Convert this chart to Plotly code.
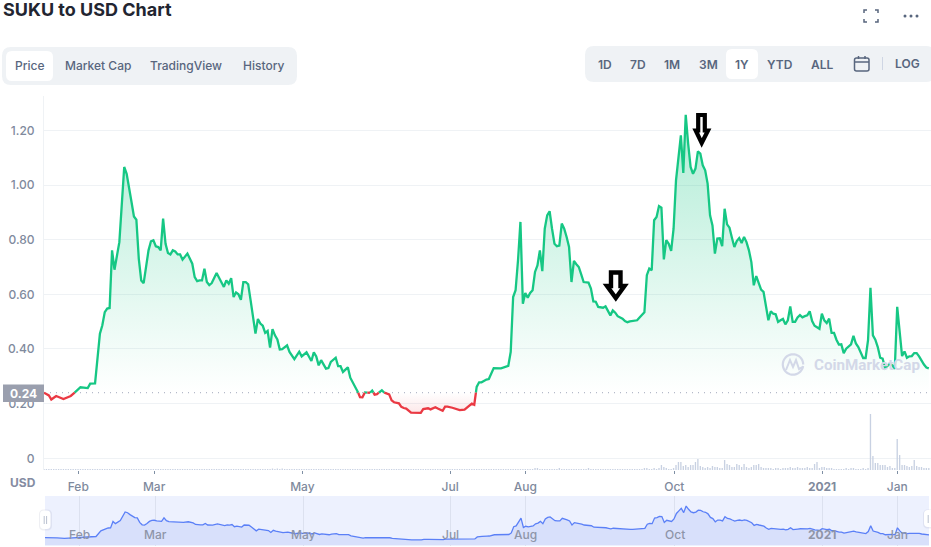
import numpy as np
import plotly.graph_objects as go

W, H = 931, 547

# Daily SUKU/USD closes (day number, price in USD)
price_day = [
    0, 2, 3, 5, 8, 11, 13, 15, 18, 19, 21, 23, 24, 25, 26, 27, 28, 29, 31, 33,
    34, 35, 36, 37, 38, 39, 40, 41, 42, 43, 44, 45, 46, 47, 48, 49, 50, 51, 52, 53,
    54, 55, 56, 57, 59, 60, 61, 62, 63, 64, 65, 66, 67, 68, 69, 71, 72, 74, 75, 76,
    77, 78, 79, 80, 81, 82, 83, 84, 85, 86, 87, 88, 89, 90, 91, 92, 93, 94, 95, 96,
    97, 98, 100, 101, 103, 105, 106, 108, 110, 111, 112, 113, 114, 116, 117, 118, 120, 121, 122, 123,
    125, 126, 127, 128, 129, 130, 131, 132, 134, 135, 136, 137, 139, 140, 142, 143, 144, 146, 147, 148,
    149, 151, 155, 156, 158, 159, 161, 162, 164, 165, 166, 168, 170, 171, 173, 176, 177, 178, 179, 180,
    182, 183, 185, 188, 191, 192, 193, 194, 195, 196, 197, 198, 199, 200, 201, 202, 203, 204, 205, 206,
    207, 208, 209, 210, 211, 212, 213, 214, 215, 216, 217, 218, 219, 220, 221, 222, 224, 225, 226, 227,
    228, 229, 230, 231, 232, 233, 234, 235, 236, 237, 238, 239, 240, 241, 242, 243, 244, 245, 246, 247,
    248, 249, 250, 251, 252, 253, 254, 255, 256, 257, 258, 259, 260, 261, 262, 263, 264, 265, 266, 267,
    268, 269, 270, 271, 272, 273, 274, 275, 276, 277, 278, 279, 280, 281, 282, 283, 284, 285, 286, 287,
    288, 289, 290, 291, 292, 293, 294, 295, 296, 297, 298, 299, 300, 301, 302, 303, 304, 305, 306, 307,
    308, 309, 310, 311, 312, 313, 314, 315, 316, 317, 318, 319, 320, 321, 322, 323, 324, 325, 326, 327,
    328, 329, 330, 331, 332, 333, 334, 335, 336, 337, 338, 339, 340, 341, 342, 343, 344, 345, 346, 347,
    348, 349, 350, 351, 352, 353, 354, 355, 356, 357, 358, 359, 360, 361, 362, 363, 364,
]
price_usd = [
    .240, .230, .215, .228, .217, .228, .243, .260, .257, .273, .274, .456, .487, .535, .548, .550, .761, .690, .791, 1.066,
    1.041, .980, .938, .885, .873, .730, .651, .641, .694, .761, .794, .798, .776, .773, .761, .877, .785, .751, .746, .761,
    .757, .746, .746, .727, .749, .727, .712, .663, .648, .651, .651, .694, .645, .634, .641, .678, .661, .627, .651, .639,
    .659, .590, .607, .600, .580, .645, .645, .637, .578, .517, .456, .510, .493, .485, .459, .466, .405, .473, .450, .435,
    .398, .399, .413, .389, .363, .390, .373, .388, .356, .388, .373, .340, .359, .328, .330, .353, .368, .337, .337, .316,
    .333, .295, .279, .261, .246, .224, .223, .241, .239, .248, .233, .235, .249, .240, .234, .212, .205, .201, .188, .184,
    .182, .167, .166, .180, .183, .179, .187, .182, .174, .189, .189, .185, .179, .176, .178, .200, .196, .261, .278, .278,
    .288, .290, .330, .329, .338, .389, .590, .615, .724, .865, .566, .605, .588, .605, .615, .682, .706, .761, .685, .840,
    .889, .904, .840, .785, .776, .778, .859, .840, .810, .773, .645, .722, .710, .700, .673, .645, .643, .621, .574, .573,
    .554, .552, .551, .556, .539, .523, .541, .533, .520, .515, .511, .502, .498, .501, .503, .505, .505, .515, .526, .534,
    .670, .694, .688, .871, .883, .923, .917, .728, .798, .785, .759, .840, 1.017, 1.100, 1.182, 1.044, 1.257, 1.151, 1.066, 1.041,
    1.060, 1.123, 1.115, 1.072, 1.054, 1.005, .889, .852, .749, .804, .805, .776, .913, .856, .844, .807, .773, .795, .806, .788,
    .810, .791, .761, .718, .633, .667, .645, .617, .609, .548, .505, .538, .529, .527, .499, .505, .510, .490, .505, .556,
    .499, .499, .515, .524, .516, .520, .523, .538, .502, .485, .480, .474, .529, .505, .495, .511, .459, .459, .434, .416,
    .417, .385, .401, .410, .417, .448, .420, .407, .389, .367, .367, .432, .624, .450, .434, .407, .368, .365, .330, .337,
    .346, .340, .327, .554, .456, .374, .391, .368, .373, .374, .385, .385, .373, .355, .343, .332, .329,
]

# Daily traded volume, one value per day, in USD millions
volume_musd = [
    1, 1, 1, 1, 1, 1, 1, 1, 1, 1, 1, 1, 1, 1, 1, 1, 1, 1, 1, 1,
    1, 1, 1, 1, 1, 1, 1, 1, 1, 1, 1, 1, 1, 1, 1, 1, 1, 1, 1, 1,
    1, 1, 1, 1, 1, 1, 1, 1, 1, 1, 1, 1, 1, 1, 1, 1, 1, 1, 1, 1,
    1, 1, 1, 1, 1, 1, 1, 1, 1, 1, 1, 1, 1, 1, 1, 1, 1, 1, 1, 1,
    1, 1, 1, 1, 1, 1, 1, 1, 1, 1, 1, 1, 1, 1, 1.5, 1, 1.5, 1, 1.5, 1,
    1, 1, 1, 1, 1, 1, 1, 1, 1, 1, 1, 1, 1, 1, 1, 1, 1, 1, 1, 1,
    1, 1, 1, 1, 1, 1, 1, 1, 1, 1, 1, 1, 1, 1, 1, 1, 1, 1, 1, 1,
    1, 1, 1, 1, 1, 1, 1, 1, 1, 1, 1, 1, 1, 1, 1, 1, 1, 1, 1, 1,
    1, 1, 1, 1, 1, 1, 1, 1, 1, 1, 1, 1, 1, 1, 1, 1, 1, 1, 1, 1,
    1, 1, 1, 1, 1, 1, 1, 1, 1, 1, 1, 1, 1, 1, 1, 1, 1, 1, 1, 1,
    1, 1, 2, 2, 1, 1, 1, 1, 1, 1, 1, 1, 2, 1, 1, 1, 1, 1, 1, 1,
    1, 1, 1, 1, 2, 1, 1, 1, 1, 1, 1, 1, 1, 1, 1, 1, 1, 1, 1, 1,
    1, 1, 1, 1, 1, 1,
    1, 2, 2, 1, 1, 2, 1, 2, 5, 3, 2, 1, 1, 2, 5, 8, 8, 4, 5, 3,
    5, 5, 8, 11, 4, 3, 2, 3, 2, 4, 3, 3, 2, 2, 10, 6, 5, 3, 3, 6,
    5, 3, 6, 3, 2, 3, 5, 5, 6, 3, 2, 2, 2, 2, 1, 2, 2, 1, 2,
    2, 2, 3, 2, 2, 3, 2, 2, 2, 3, 2, 2, 6, 8, 2, 3, 3, 2, 2, 2,
    1, 1, 1, 1, 1, 2, 1, 2, 2, 1, 1, 1, 2, 1, 2, 56, 14, 7, 7, 5,
    5, 5, 3, 4, 2, 2, 31, 15, 5, 5, 4, 3, 4, 10, 4, 3, 3, 2, 2, 2,
]

# Axis ticks
month_ticks = [14.1, 45.3, 106.3, 167.1, 198.0, 259.3, 320.1, 351.0]
month_labels = ["Feb", "Mar", "May", "Jul", "Aug", "Oct", "<b>2021</b>", "Jan"]
price_ticks = [0, 0.2, 0.4, 0.6, 0.8, 1.0, 1.2]
price_labels = ["0", "0.20", "0.40", "0.60", "0.80", "1.00", "1.20"]
reference_price = 0.24

range_tabs = ["1D", "7D", "1M", "3M", "1Y", "YTD", "ALL"]
range_tab_centres = [604.5, 637.7, 672, 708, 742.3, 780, 822]
view_tabs = ["Price", "Market Cap", "TradingView", "History"]
view_tab_centres = [30, 97.5, 186, 263]

GREEN = "#16c784"
RED = "#ea3943"
GRID = "#eff2f5"
TICK_TEXT = "#808a9d"
TAB_TEXT = "#58667e"
PANEL = "#eff2f5"
FONT = "Inter"


def px(x):
    return x / W


def py(y):
    return 1 - y / H


def with_crossings(days, values, level):
    """Add a vertex wherever the series crosses the level, so colours split cleanly."""
    xs, ys = [days[0]], [values[0]]
    for i in range(1, len(days)):
        a, b = values[i - 1], values[i]
        if (a - level) * (b - level) < 0:
            t = (level - a) / (b - a)
            xs.append(days[i - 1] + t * (days[i] - days[i - 1]))
            ys.append(level)
        xs.append(days[i])
        ys.append(values[i])
    return np.array(xs), np.array(ys)


def rounded(x0, y0, x1, y1, r):
    """SVG path of a rounded rectangle in page pixels."""
    X0, X1, Y0, Y1 = px(x0), px(x1), py(y0), py(y1)
    rx, ry = r / W, r / H
    return (
        f"M{X0+rx},{Y0} L{X1-rx},{Y0} Q{X1},{Y0} {X1},{Y0-ry} "
        f"L{X1},{Y1+ry} Q{X1},{Y1} {X1-rx},{Y1} L{X0+rx},{Y1} "
        f"Q{X0},{Y1} {X0},{Y1+ry} L{X0},{Y0-ry} Q{X0},{Y0} {X0+rx},{Y0} Z"
    )


def poly(points, close=False):
    body = " L".join(f"{px(x)},{py(y)}" for x, y in points)
    return "M" + body + (" Z" if close else "")


def paper_shape(path, fill="rgba(0,0,0,0)", line=None, width=1, layer="above"):
    return dict(
        type="path", xref="paper", yref="paper", path=path, fillcolor=fill,
        line=dict(color=line or "rgba(0,0,0,0)", width=width if line else 0), layer=layer,
    )


def label(text, x, y, size=12, color=TAB_TEXT, weight=500, anchor="center", family=FONT, **extra):
    return dict(
        text=text, x=px(x), y=py(y), xref="paper", yref="paper", showarrow=False,
        xanchor=anchor, yanchor="middle", borderpad=0,
        font=dict(family=family, size=size, color=color, weight=weight),
        **extra,
    )


fig = go.Figure()

dense_x, dense_y = with_crossings(price_day, price_usd, reference_price)
base_line = np.full_like(dense_y, reference_price)
upper = np.maximum(dense_y, reference_price)
lower = np.minimum(dense_y, reference_price)

# Area between the reference price and the series, green above and red below
fig.add_trace(go.Scatter(x=dense_x, y=base_line, mode="lines", line=dict(width=0), hoverinfo="skip"))
fig.add_trace(go.Scatter(
    x=dense_x, y=upper, mode="lines", line=dict(width=0), fill="tonexty", hoverinfo="skip",
    fillgradient=dict(
        type="vertical", start=1.26, stop=reference_price,
        colorscale=[[0, "rgba(22,199,132,0.34)"], [1, "rgba(22,199,132,0.0)"]],
    ),
))
fig.add_trace(go.Scatter(x=dense_x, y=base_line, mode="lines", line=dict(width=0), hoverinfo="skip"))
fig.add_trace(go.Scatter(
    x=dense_x, y=lower, mode="lines", line=dict(width=0), fill="tonexty", hoverinfo="skip",
    fillgradient=dict(
        type="vertical", start=reference_price, stop=0.16,
        colorscale=[[0, "rgba(234,57,67,0.0)"], [1, "rgba(234,57,67,0.13)"]],
    ),
))

# Dotted reference level
fig.add_trace(go.Scatter(
    x=[0, 364.9], y=[reference_price, reference_price], mode="lines",
    line=dict(color="#a1a7bb", width=1, dash="1px,5px"), hoverinfo="skip",
))

# Price line, split into its rising and falling halves around the reference
fig.add_trace(go.Scatter(
    x=dense_x, y=np.where(dense_y >= reference_price, dense_y, np.nan), mode="lines",
    line=dict(color=GREEN, width=2.3), connectgaps=False, hoverinfo="skip",
))
fig.add_trace(go.Scatter(
    x=dense_x, y=np.where(dense_y <= reference_price, dense_y, np.nan), mode="lines",
    line=dict(color=RED, width=2.3), connectgaps=False, hoverinfo="skip",
))

# Volume bars share the bottom edge of the price panel
fig.add_trace(go.Bar(
    x=list(range(len(volume_musd))), y=volume_musd, width=0.55, yaxis="y2",
    marker=dict(color="#c8d1e2", line=dict(width=0)), hoverinfo="skip",
))

# Overview strip below the chart
fig.add_trace(go.Scatter(
    x=price_day, y=price_usd, mode="lines", xaxis="x2", yaxis="y3", fill="tozeroy",
    fillcolor="#d8e0fb", line=dict(color="#5b80f7", width=1.3), hoverinfo="skip",
))

shapes = [
    # overview background
    paper_shape(poly([(45, 496), (929, 496), (929, 546), (45, 546)], True), fill="#edf1fe", layer="below"),
    # tab panels
    paper_shape(rounded(2, 47, 297, 85, 9), fill=PANEL),
    paper_shape(rounded(6, 51, 53, 81, 6), fill="#ffffff"),
    paper_shape(rounded(585, 46, 935, 82, 9), fill=PANEL),
    paper_shape(rounded(726, 49, 758, 79, 6), fill="#ffffff"),
    # calendar icon and divider
    paper_shape(rounded(854.5, 58, 869, 71, 2), line=TAB_TEXT, width=1.5),
    paper_shape(poly([(854.5, 62), (869, 62)]), line=TAB_TEXT, width=1.5),
    paper_shape(poly([(858.5, 56), (858.5, 59)]), line=TAB_TEXT, width=1.5),
    paper_shape(poly([(865, 56), (865, 59)]), line=TAB_TEXT, width=1.5),
    paper_shape(poly([(882.5, 57), (882.5, 70)]), line="#cfd6e4", width=1),
    # fullscreen corners
    paper_shape(poly([(864, 13), (864, 10), (867, 10)]), line=TAB_TEXT, width=1.5),
    paper_shape(poly([(875, 10), (878, 10), (878, 13)]), line=TAB_TEXT, width=1.5),
    paper_shape(poly([(864, 19), (864, 22), (867, 22)]), line=TAB_TEXT, width=1.5),
    paper_shape(poly([(875, 22), (878, 22), (878, 19)]), line=TAB_TEXT, width=1.5),
    # current price tag
    paper_shape(poly([(3, 384.5), (44, 384.5), (44, 402), (3, 402)], True), fill="#9a9fae"),
    # overview handles
    paper_shape(rounded(39, 509.5, 52, 530.5, 5), fill="rgba(120,130,160,0.13)"),
    paper_shape(rounded(40, 510.5, 50.5, 529, 4), fill="#ffffff"),
    paper_shape(poly([(44.2, 516), (44.2, 524)]), line="#b9c0cf", width=1),
    paper_shape(poly([(46.6, 516), (46.6, 524)]), line="#b9c0cf", width=1),
    paper_shape(rounded(923, 509.5, 936, 528.5, 5), fill="rgba(120,130,160,0.13)"),
    paper_shape(rounded(924, 510, 936, 527, 4), fill="#ffffff"),
    paper_shape(poly([(928.2, 515), (928.2, 523)]), line="#b9c0cf", width=1),
    # hand-drawn arrows
    paper_shape(
        poly([(611, 272.5), (620.5, 272.5), (620.5, 286), (624.5, 286), (615.8, 298), (607, 286), (611, 286)], True),
        fill="#ffffff", line="#000000", width=4.4,
    ),
    paper_shape(
        poly([(698.2, 115), (704.8, 115), (704.8, 130.5), (708, 130.5), (701.7, 143), (695.7, 130.5), (698.2, 130.5)], True),
        fill="#ffffff", line="#000000", width=4.2,
    ),
    # watermark logo
    paper_shape(
        "M" + " L".join(
            f"{px(793 + 10.2 * np.cos(a))},{py(364.5 + 10.2 * np.sin(a))}"
            for a in np.linspace(0.15, 2 * np.pi + 0.0, 40)
        ),
        line="#d3d8e8", width=2.2,
    ),
    paper_shape(
        poly([(786, 370), (790, 360), (793, 367), (796, 360), (799, 369), (803, 367)]),
        line="#d3d8e8", width=2,
    ),
]
for cx in (905, 911, 917):
    shapes.append(dict(
        type="circle", xref="paper", yref="paper", x0=px(cx - 1.5), x1=px(cx + 1.5),
        y0=py(17.5), y1=py(14.5), fillcolor=TAB_TEXT, line=dict(width=0), layer="above",
    ))

annotations = [
    label("SUKU to USD Chart", 2, 10, size=18, color="#222531", weight=700, anchor="left"),
    label("0.24", 23, 393.3, size=12, color="#ffffff", weight=700),
    label("USD", 23, 482.5, size=12, color="#858ca2", weight=700),
    label("LOG", 907.7, 63.5, size=12, color=TAB_TEXT, weight=600),
    label("CoinMarketCap", 813, 364.5, size=15.2, color="#d3d8e8", weight=700, anchor="left", family="Roboto"),
]
for text, cx in zip(view_tabs, view_tab_centres):
    annotations.append(label(text, cx, 66))
for text, cx in zip(range_tabs, range_tab_centres):
    annotations.append(label(text, cx, 64.5, weight=600))
for text, day in zip(month_labels, month_ticks):
    annotations.append(dict(
        text=text, x=day, xref="x2", y=py(534), yref="paper", showarrow=False,
        xanchor="center", yanchor="middle",
        font=dict(family=FONT, size=12, color="#8e95a8", weight=500),
    ))

fig.update_layout(
    width=W, height=H, autosize=False, showlegend=False, barmode="overlay",
    margin=dict(l=0, r=0, t=0, b=0), paper_bgcolor="#ffffff", plot_bgcolor="rgba(0,0,0,0)",
    font=dict(family=FONT, color=TICK_TEXT, size=12),
    shapes=shapes, annotations=annotations,
    xaxis=dict(
        domain=[px(44), 1], range=[0, 364.9], anchor="y", showgrid=False, zeroline=False,
        tickmode="array", tickvals=month_ticks, ticktext=month_labels,
        ticks="outside", ticklen=3, tickwidth=1, tickcolor="#7f8fa4",
        tickfont=dict(family=FONT, size=12, color=TICK_TEXT, weight=500), ticklabelstandoff=3,
    ),
    yaxis=dict(
        domain=[py(470), py(96)], range=[-0.0428, 1.3257], anchor="x", zeroline=False,
        showline=True, linecolor=GRID, linewidth=1,
        showgrid=True, gridcolor=GRID, gridwidth=1,
        tickmode="array", tickvals=price_ticks, ticktext=price_labels,
        ticks="outside", ticklen=6, tickcolor="rgba(0,0,0,0)",
        tickfont=dict(family=FONT, size=12, color=TICK_TEXT, weight=500),
    ),
    yaxis2=dict(
        domain=[py(470), py(96)], range=[0, 374], overlaying="y", anchor="x",
        visible=False,
    ),
    xaxis2=dict(
        domain=[px(45), px(929)], range=[0, 364], anchor="y3", zeroline=False,
        showgrid=True, gridcolor="#dce1ef", gridwidth=1,
        tickmode="array", tickvals=month_ticks, showticklabels=False, ticks="",
    ),
    yaxis3=dict(
        domain=[py(546), py(496)], range=[-0.032, 1.58], anchor="x2",
        visible=False,
    ),
)

fig.write_html("out.html", config=dict(displayModeBar=False, staticPlot=True))
